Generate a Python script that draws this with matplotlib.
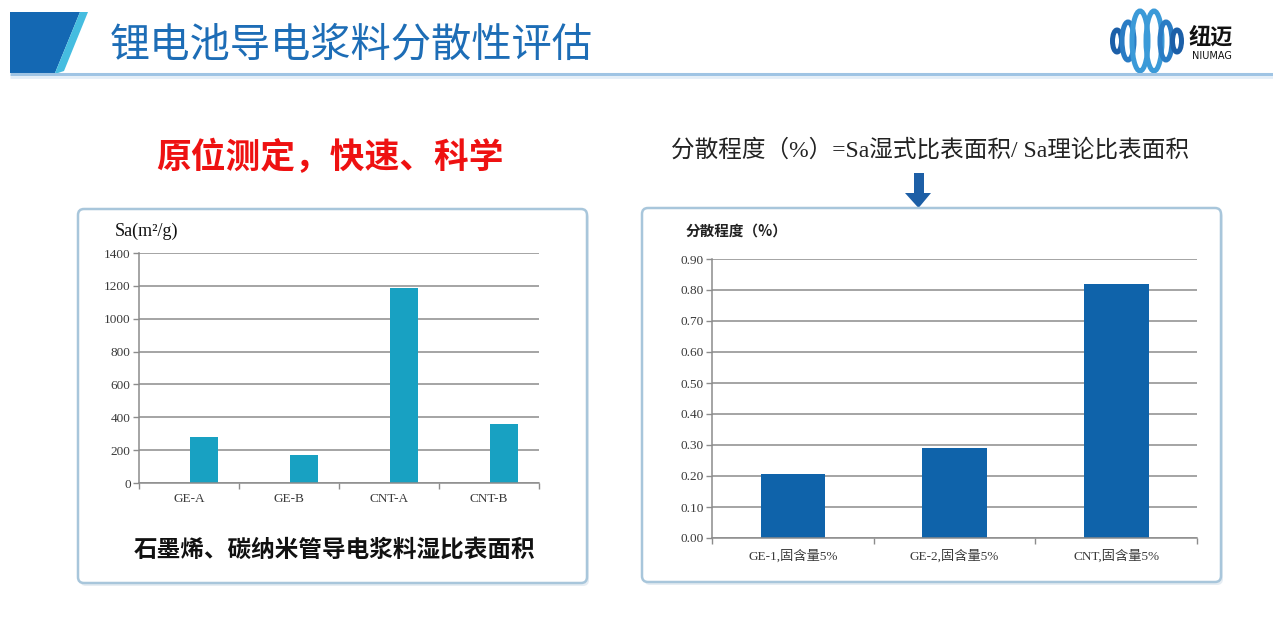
import numpy as np
import matplotlib
matplotlib.use('Agg')
import matplotlib.pyplot as plt
from matplotlib.patches import FancyBboxPatch, Polygon, Ellipse

plt.rcParams['font.family'] = ['Noto Sans CJK SC', 'DejaVu Sans']

# ===== Data =====
sa_labels = ['GE-A', 'GE-B', 'CNT-A', 'CNT-B']
sa_values = [278, 169, 1188, 361]

disp_labels = ['GE-1,固含量5%', 'GE-2,固含量5%', 'CNT,固含量5%']
disp_values = [0.207, 0.290, 0.820]

SERIF = ['Liberation Serif', 'Noto Sans CJK SC']
W, H = 1273, 627

fig = plt.figure(figsize=(W / 100, H / 100), dpi=100)
fig.patch.set_facecolor('white')

# background canvas in pixel coords
bg = fig.add_axes([0, 0, 1, 1])
bg.set_xlim(0, W)
bg.set_ylim(H, 0)
bg.axis('off')


def px_axes(x0, y0, x1, y1):
    return fig.add_axes([x0 / W, 1 - y1 / H, (x1 - x0) / W, (y1 - y0) / H])


# ===== Header =====
bg.add_patch(Polygon([(10, 12), (80, 12), (55, 73), (10, 73)],
                     closed=True, facecolor='#1468b3', edgecolor='none'))
bg.add_patch(Polygon([(80, 12), (88, 12), (64, 71), (58, 73), (55, 73)],
                     closed=True, facecolor='#45bde0', edgecolor='none'))
bg.plot([10, W], [74, 74], color='#9fc4e4', lw=2.2, solid_capstyle='butt')
bg.plot([10, W], [76.5, 76.5], color='#e3eef8', lw=2, solid_capstyle='butt')

bg.text(110, 45, '锂电池导电浆料分散性评估', fontsize=29, color='#1d6db6',
        ha='left', va='center')

# logo
for off, w, h, c in [(-30, 9, 22, '#1c5fa8'), (-19, 12, 38, '#2a7cc4'),
                     (-7, 16, 60, '#3b9ad8'), (7, 16, 60, '#3b9ad8'),
                     (19, 12, 38, '#2a7cc4'), (30, 9, 22, '#1c5fa8')]:
    bg.add_patch(Ellipse((1147 + off, 41), w, h, facecolor='none',
                         edgecolor=c, lw=3.6))
bg.text(1211, 37, '纽迈', fontsize=16, fontweight='bold', color='#111111',
        ha='center', va='center')
bg.text(1212, 56, 'NIUMAG', fontsize=7, color='#111111',
        ha='center', va='center', family='DejaVu Sans')

# ===== Texts above panels =====
bg.text(330, 157, '原位测定，快速、科学', fontsize=25, fontweight='bold',
        color='#ee1111', ha='center', va='center')
bg.text(930, 150, '分散程度（%）=Sa湿式比表面积/ Sa理论比表面积',
        fontsize=17, color='#222222', ha='center', va='center', family=SERIF)

# down arrow
bg.add_patch(Polygon([(914, 173), (924, 173), (924, 193), (931, 193),
                      (918.5, 208), (905, 193), (914, 193)],
                     closed=True, facecolor='#1d5fa6', edgecolor='none'))

# ===== Panels =====
for x0, y0, x1, y1 in [(78, 209, 587, 583), (642, 208, 1221, 582)]:
    bg.add_patch(FancyBboxPatch((x0 + 2, y0 + 3), x1 - x0, y1 - y0,
                                boxstyle='round,pad=0,rounding_size=6',
                                facecolor='#e6edf3', edgecolor='none'))
    bg.add_patch(FancyBboxPatch((x0, y0), x1 - x0, y1 - y0,
                                boxstyle='round,pad=0,rounding_size=6',
                                facecolor='white', edgecolor='#a8c6db', lw=1.8))


def style_chart(ax, ymax, step, fmt, labels, label_pad):
    n = len(labels)
    ax.set_xlim(-0.5, n - 0.5)
    ax.set_ylim(0, ymax)
    ticks = np.arange(0, ymax + step / 2, step)
    ax.set_yticks(ticks)
    ax.set_yticklabels([fmt.format(t) for t in ticks])
    ax.set_xticks(np.arange(n + 1) - 0.5)
    ax.set_xticklabels([])
    ax.set_xticks(np.arange(n), labels, minor=True)
    ax.tick_params(axis='x', which='major', length=4, color='#8c8c8c', width=1)
    ax.tick_params(axis='x', which='minor', length=0, pad=label_pad,
                   labelsize=9.5, labelcolor='#3a3a3a')
    ax.tick_params(axis='y', length=4, color='#8c8c8c', width=1, pad=2,
                   labelsize=9.5, labelcolor='#3a3a3a')
    for lab in ax.get_xticklabels(minor=True) + ax.get_yticklabels():
        lab.set_fontfamily(SERIF)
    ax.yaxis.grid(True, color='#8c8c8c', lw=1.1)
    ax.set_axisbelow(True)
    for s in ['top', 'right']:
        ax.spines[s].set_visible(False)
    for s in ['left', 'bottom']:
        ax.spines[s].set_color('#8c8c8c')
        ax.spines[s].set_linewidth(1.1)
    ax.set_facecolor('none')


# ===== Left chart =====
ax1 = px_axes(139, 253, 539, 483)
ax1.bar(np.arange(len(sa_values)) + 0.15, sa_values, width=0.28,
        color='#18a1c2', edgecolor='none')
style_chart(ax1, 1400, 200, '{:.0f}', sa_labels, 7)
bg.text(115, 231, 'Sa(m²/g)', fontsize=13, color='#111111', ha='left',
        va='center', family=SERIF)
bg.text(335, 550, '石墨烯、碳纳米管导电浆料湿比表面积', fontsize=17,
        fontweight='bold', color='#111111', ha='center', va='center')

# ===== Right chart =====
ax2 = px_axes(712, 259, 1197, 538)
ax2.bar(np.arange(len(disp_values)), disp_values, width=0.4,
        color='#0f63aa', edgecolor='none')
style_chart(ax2, 0.9, 0.1, '{:.2f}', disp_labels, 8)
bg.text(686, 231, '分散程度（%）', fontsize=10.5, fontweight='bold',
        color='#222222', ha='left', va='center')

fig.savefig('out.png', dpi=100)
